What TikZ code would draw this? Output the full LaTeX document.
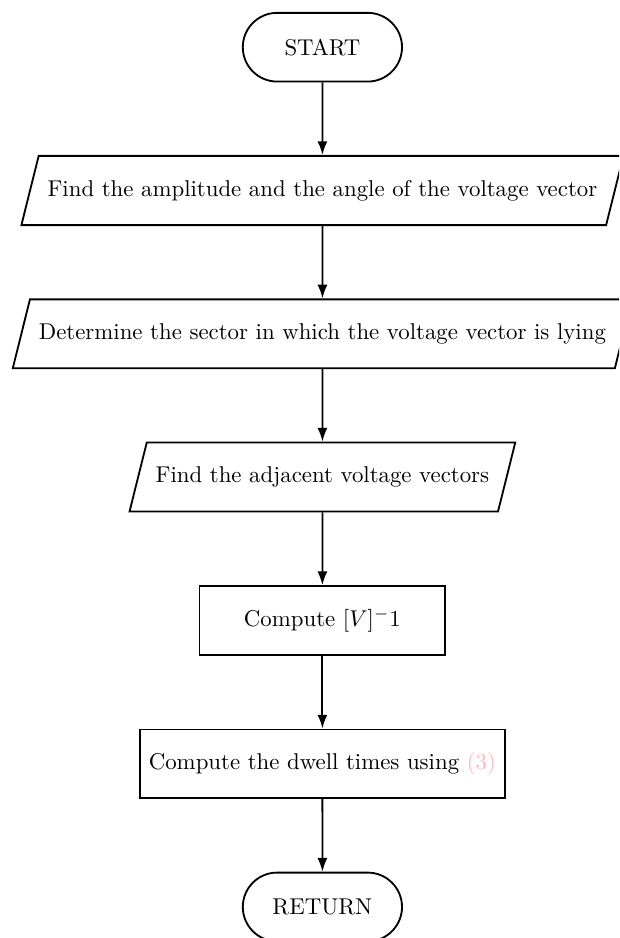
\documentclass[tikz,border=0pt]{standalone}
\usetikzlibrary{shapes.geometric,shapes.misc,arrows.meta}
\definecolor{linkpink}{RGB}{255,180,190}
\begin{document}
\begin{tikzpicture}[
  box/.style={draw, thick, align=center},
  term/.style={box, rounded rectangle, minimum width=76.4pt, minimum height=30.1pt},
  io/.style={box, trapezium, trapezium left angle=76, trapezium right angle=104,
             inner ysep=10.6pt, inner xsep=3.9pt},
  proc/.style={box, rectangle, minimum height=30.1pt, inner xsep=3.9pt},
  flow/.style={-{Latex[length=6pt,width=4.4pt]}, thick}
]
\useasboundingbox (0,0) rectangle (271.1pt,-410.8pt);
\clip (0,0) rectangle (271.1pt,-410.8pt);
\node[term] (start) at (141.2pt,-20.67pt) {START};
\node[io] (amp) at (141.2pt,-83.43pt) {Find the amplitude and the angle of the voltage vector};
\node[io] (sector) at (141.2pt,-146.2pt) {Determine the sector in which the voltage vector is lying};
\node[io] (adj) at (141.2pt,-208.9pt) {Find the adjacent voltage vectors};
\node[proc, minimum width=107.7pt] (inv) at (141.2pt,-271.7pt) {Compute $[V]^-1$};
\node[proc] (dwell) at (141.2pt,-334.5pt) {Compute the dwell times using \textcolor{linkpink}{(3)}};
\node[term] (ret) at (141.2pt,-397.2pt) {RETURN};
\draw[flow] (start) -- (amp);
\draw[flow] (amp) -- (sector);
\draw[flow] (sector) -- (adj);
\draw[flow] (adj) -- (inv);
\draw[flow] (inv) -- (dwell);
\draw[flow] (dwell) -- (ret);
\end{tikzpicture}
\end{document}
